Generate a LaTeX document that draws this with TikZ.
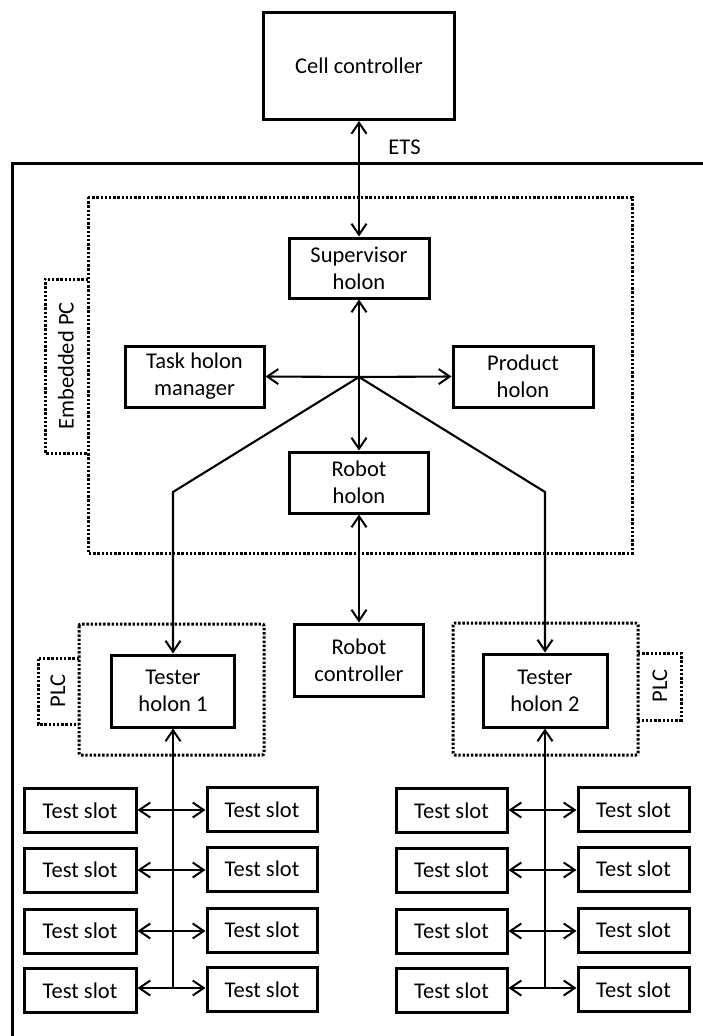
\documentclass[tikz,border=0pt]{standalone}
\usepackage{fontspec}
\setmainfont{Carlito}
\usetikzlibrary{arrows.meta}
\tikzset{
  box/.style={draw, line width=3pt, align=center, inner sep=0pt, font=\fontsize{22.5}{27}\selectfont},
  slot/.style={box, minimum width=111pt, minimum height=44pt},
  conn/.style={line width=2.1pt},
  tip/.style={-{Straight Barb[length=11pt,width=15pt,line width=2pt]}},
  dtip/.style={{Straight Barb[length=11pt,width=15pt,line width=2pt]}-{Straight Barb[length=11pt,width=15pt,line width=2pt]}},
  dots/.style={line width=3pt, dash pattern=on 2.4pt off 1.8pt},
  lbl/.style={font=\fontsize{22.5}{27}\selectfont, inner sep=0pt}
}
\begin{document}
\begin{tikzpicture}[x=1pt,y=-1pt]
\useasboundingbox (0,0) rectangle (703,1036);
% outer frame
\draw[line width=3pt] (703,163) -- (12,163) -- (12,1036);
% embedded PC area
\draw[dots] (88,197) rectangle (632,553);
\draw[dots] (88,279) -- (45,279) -- (45,453) -- (88,453);
\node[lbl, rotate=90] (epc) at (66,366) {Embedded PC};
% PLC areas
\draw[dots, rounded corners=2pt] (79,624) rectangle (264,755);
\draw[dots] (79,658) -- (38,658) -- (38,724) -- (79,724);
\node[lbl, rotate=90] (plc1) at (58,691) {PLC};
\draw[dots, rounded corners=2pt] (453,623) rectangle (638,755);
\draw[dots] (638,653) -- (681,653) -- (681,720) -- (638,720);
\node[lbl, rotate=90] (plc2) at (660,686) {PLC};

% nodes
\node[box, minimum width=191pt, minimum height=107pt] (cell) at (359,66) {Cell controller};
\node[box, minimum width=140pt, minimum height=60pt] (sup) at (359,268) {Supervisor\\holon};
\node[box, minimum width=139pt, minimum height=61pt] (task) at (194.5,376.5) {Task holon\\manager};
\node[box, minimum width=140pt, minimum height=61pt] (prod) at (523,376.5) {Product\\holon};
\node[box, minimum width=139pt, minimum height=61pt] (rh) at (359,482.5) {Robot\\holon};
\node[box, minimum width=129pt, minimum height=72pt] (rc) at (359,660) {Robot\\controller};
\node[box, minimum width=123pt, minimum height=72pt] (t1) at (173,691) {Tester\\holon 1};
\node[box, minimum width=124pt, minimum height=73pt] (t2) at (545,690.5) {Tester\\holon 2};
\node[lbl] (ets) at (404.5,147) {ETS};

\coordinate (hub) at (359,377);
\coordinate (bl) at (173,492);
\coordinate (br) at (545,492);

% connectors
\draw[conn, dtip] (cell.south) -- (sup.north);
\draw[conn, tip] (hub) -- (sup.south);
\draw[conn, tip] (hub) -- (task.east);
\draw[conn, tip] (hub) -- (prod.west);
\draw[conn, tip] (hub) -- (rh.north);
\draw[conn, tip] (hub) -- (bl) -- (t1.north);
\draw[conn, tip] (hub) -- (br) -- (t2.north);
\draw[conn, dtip] (rh.south) -- (rc.north);

% test slots
\foreach \i/\y in {1/810.5,2/870,3/931,4/990.5}{
  \node[slot, minimum width=112pt] (la\i) at (80,\y) {Test slot};
  \node[slot, minimum width=110pt] (lb\i) at (262,\y-1) {Test slot};
  \node[slot] (ra\i) at (451.5,\y) {Test slot};
  \node[slot] (rb\i) at (633.5,\y-1) {Test slot};
}
\foreach \i/\y in {1/810,2/870,3/931,4/988}{
  \draw[conn, dtip] (la\i.east |- 0,\y) -- (lb\i.west |- 0,\y);
  \draw[conn, dtip] (ra\i.east |- 0,\y) -- (rb\i.west |- 0,\y);
}
\coordinate (j1) at (173,988);
\coordinate (j2) at (545,988);
\draw[conn, tip] (j1) -- (t1.south);
\draw[conn, tip] (j2) -- (t2.south);
\end{tikzpicture}
\end{document}
